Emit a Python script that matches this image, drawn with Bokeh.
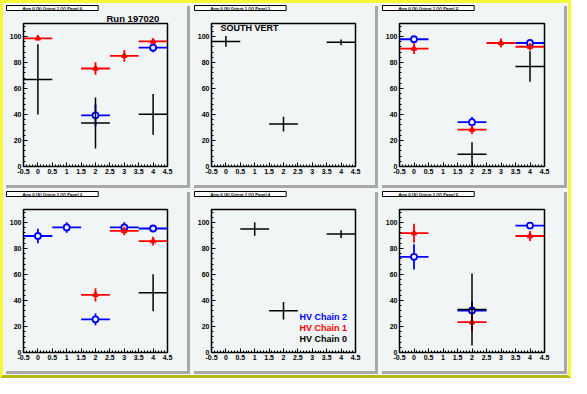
from bokeh.plotting import figure
from bokeh.layouts import gridplot, column
from bokeh.models import (ColumnDataSource, Label, Legend, LegendItem, Title,
                          SingleIntervalTicker, Range1d, CustomJSTickFormatter)
from bokeh.embed import file_html
from bokeh.resources import INLINE

# ---------------- data ----------------
GAPS = [0, 1, 2, 3, 4]          # x positions (gap number)
X_HALF = 0.5                    # horizontal error bar half width
N = None

PANEL_TITLES = ["Arm 0 (S) Orient 1 (V) Panel 0", "Arm 0 (S) Orient 1 (V) Panel 1",
                "Arm 0 (S) Orient 1 (V) Panel 2", "Arm 0 (S) Orient 1 (V) Panel 3",
                "Arm 0 (S) Orient 1 (V) Panel 4", "Arm 0 (S) Orient 1 (V) Panel 5"]
CHAIN_NAMES = ["HV Chain 2", "HV Chain 1", "HV Chain 0"]
CHAIN_COLORS = ["#0000ff", "#ff0000", "#000000"]
RUN_TEXT = "Run 197020"
SIDE_TEXT = "SOUTH VERT"

# Panel 0
P0_CH2_Y = [N, N, 39.4, N, 91.4]
P0_CH2_E = [N, N, 8.5, N, 3.6]
P0_CH1_Y = [98.6, N, 75.4, 85.1, 96.2]
P0_CH1_E = [1.5, N, 4.8, 4.6, 2.2]
P0_CH0_Y = [67.0, N, 33.4, N, 40.1]
P0_CH0_E = [27.0, N, 19.6, N, 15.7]
# Panel 1
P1_CH2_Y = [N, N, N, N, N]
P1_CH2_E = [N, N, N, N, N]
P1_CH1_Y = [N, N, N, N, N]
P1_CH1_E = [N, N, N, N, N]
P1_CH0_Y = [96.2, N, 32.6, N, 95.5]
P1_CH0_E = [4.1, N, 5.6, N, 2.2]
# Panel 2
P2_CH2_Y = [97.9, N, 34.1, N, 95.0]
P2_CH2_E = [1.5, N, 3.9, N, 1.5]
P2_CH1_Y = [90.7, N, 28.3, 95.0, 92.1]
P2_CH1_E = [4.2, N, 3.5, 3.5, 2.9]
P2_CH0_Y = [N, N, 9.4, N, 76.9]
P2_CH0_E = [N, N, 9.2, N, 11.7]
# Panel 3
P3_CH2_Y = [89.6, 96.2, 25.5, 96.2, 95.4]
P3_CH2_E = [5.6, 4.0, 4.5, 3.9, 1.5]
P3_CH1_Y = [N, N, 44.4, 93.5, 85.7]
P3_CH1_E = [N, N, 5.1, 3.3, 3.4]
P3_CH0_Y = [N, N, N, N, 45.9]
P3_CH0_E = [N, N, N, N, 14.2]
# Panel 4
P4_CH2_Y = [N, N, N, N, N]
P4_CH2_E = [N, N, N, N, N]
P4_CH1_Y = [N, N, N, N, N]
P4_CH1_E = [N, N, N, N, N]
P4_CH0_Y = [N, 95.0, 32.1, N, 91.1]
P4_CH0_E = [N, 5.1, 6.7, N, 3.0]
# Panel 5
P5_CH2_Y = [73.6, N, 32.3, N, 97.6]
P5_CH2_E = [9.7, N, 6.7, N, 1.5]
P5_CH1_Y = [91.8, N, 23.3, N, 89.6]
P5_CH1_E = [7.3, N, 6.7, N, 3.9]
P5_CH0_Y = [N, N, 33.0, N, N]
P5_CH0_E = [N, N, 27.7, N, N]

PANELS = [
    [(P0_CH2_Y, P0_CH2_E), (P0_CH1_Y, P0_CH1_E), (P0_CH0_Y, P0_CH0_E)],
    [(P1_CH2_Y, P1_CH2_E), (P1_CH1_Y, P1_CH1_E), (P1_CH0_Y, P1_CH0_E)],
    [(P2_CH2_Y, P2_CH2_E), (P2_CH1_Y, P2_CH1_E), (P2_CH0_Y, P2_CH0_E)],
    [(P3_CH2_Y, P3_CH2_E), (P3_CH1_Y, P3_CH1_E), (P3_CH0_Y, P3_CH0_E)],
    [(P4_CH2_Y, P4_CH2_E), (P4_CH1_Y, P4_CH1_E), (P4_CH0_Y, P4_CH0_E)],
    [(P5_CH2_Y, P5_CH2_E), (P5_CH1_Y, P5_CH1_E), (P5_CH0_Y, P5_CH0_E)],
]

# ---------------- style ----------------
BG = "#f2f5f5"
FONT = "Liberation Sans"
WIDTHS = [184, 184, 185]
HEIGHT = 182
ML, MR, MT, MB = 20, 20, 18, 19


def make_source(ys, es):
    xs, yv, x0, x1, y0, y1 = [], [], [], [], [], []
    for g, y, e in zip(GAPS, ys, es):
        if y is None:
            continue
        xs.append(g); yv.append(y)
        x0.append(g - X_HALF); x1.append(g + X_HALF)
        y0.append(y - e); y1.append(y + e)
    return ColumnDataSource(dict(x=xs, y=yv, x0=x0, x1=x1, y0=y0, y1=y1))


def make_pad(idx, width):
    p = figure(width=width, height=HEIGHT, x_range=Range1d(-0.5, 4.5), y_range=Range1d(0, 110),
               output_backend="svg", toolbar_location=None,
               min_border_left=ML, min_border_right=MR, min_border_top=MT, min_border_bottom=MB,
               background_fill_color=BG, border_fill_color=BG,
               outline_line_color="black", outline_line_width=1.5)
    p.xgrid.visible = False
    p.ygrid.visible = False
    p.xaxis.ticker = SingleIntervalTicker(interval=0.5, num_minor_ticks=5)
    p.xaxis.formatter = CustomJSTickFormatter(code="return String(tick)")
    p.yaxis.ticker = SingleIntervalTicker(interval=20, num_minor_ticks=5)
    for ax in (p.xaxis[0], p.yaxis[0]):
        ax.major_tick_in = 4
        ax.major_tick_out = 0
        ax.minor_tick_in = 2
        ax.minor_tick_out = 0
        ax.major_tick_line_color = "black"
        ax.minor_tick_line_color = "black"
        ax.axis_line_color = "black"
        ax.major_label_text_font = FONT
        ax.major_label_text_font_style = "bold"
        ax.major_label_text_font_size = "7px"
        ax.major_label_text_color = "black"
        ax.major_label_standoff = 2

    renderers = []
    for (ys, es), color in zip(PANELS[idx], CHAIN_COLORS):
        src = make_source(ys, es)
        lw = 1.5 if color == "#000000" else 1.8
        p.segment(x0="x0", y0="y", x1="x1", y1="y", source=src, line_color=color, line_width=lw)
        p.segment(x0="x", y0="y0", x1="x", y1="y1", source=src, line_color=color, line_width=lw)
        if color == "#0000ff":
            r = p.scatter("x", "y", source=src, marker="circle", size=6, line_color=color,
                          line_width=1.8, fill_color=BG)
        elif color == "#ff0000":
            r = p.scatter("x", "y", source=src, marker="triangle", size=5, line_color=color,
                          line_width=1.5, fill_color=color)
        else:
            r = p.scatter("x", "y", source=ColumnDataSource(dict(x=[], y=[])), marker="cross",
                          size=8, line_color=color, line_width=1.5)
        renderers.append(r)

    # text above the frame: nearest to the frame first
    inner = Title(text=RUN_TEXT if idx == 0 else " ", align="left", offset=83,
                  text_font=FONT, text_font_style="bold", text_font_size="9.5px",
                  text_color="black", standoff=0)
    p.add_layout(inner, "above")
    box = Title(text=PANEL_TITLES[idx], align="left", offset=-17,
                text_font=FONT, text_font_style="bold", text_font_size="4.3px",
                text_color="black", background_fill_color="white",
                border_line_color="black", border_line_width=1, padding=(16, 0), standoff=0)
    p.add_layout(box, "above")
    p.styles = {"box-shadow": "3px 3px 0px 0px #a8a8a8"}
    return p, renderers


pads = []
for i in range(6):
    p, rs = make_pad(i, WIDTHS[i % 3])
    pads.append((p, rs))

fh = HEIGHT - MT - MB

# SOUTH VERT (pad 1)
pads[1][0].add_layout(Label(x=9, y=fh - 11, x_units="screen", y_units="screen", text=SIDE_TEXT,
                            text_font=FONT, text_font_style="bold", text_font_size="9px",
                            text_color="black"))
# legend (pad 4)
p4, rs4 = pads[4]
for k, (name, color, r) in enumerate(zip(CHAIN_NAMES, CHAIN_COLORS, rs4)):
    yc = [35.5, 24.0, 12.8][k]
    leg = Legend(items=[LegendItem(label=name, renderers=[r])], location=(73.4, yc - 5.5),
                 background_fill_alpha=0, border_line_alpha=0, padding=0, margin=0, spacing=0,
                 glyph_width=10, glyph_height=11, label_height=11, label_standoff=5,
                 label_text_font=FONT, label_text_font_style="bold", label_text_font_size="9px",
                 label_text_color=color)
    p4.add_layout(leg)

grid = gridplot([[pads[0][0], pads[1][0], pads[2][0]], [pads[3][0], pads[4][0], pads[5][0]]],
                toolbar_location=None)
grid.spacing = 4
root = column(grid, styles={"background-color": BG,
                            "border-style": "solid", "border-width": "3px",
                            "border-color": "#f7f73a #f7f73a #b8b814 #f7f73a",
                            "padding": "0px 4px 4px 0px"})

open("out.html", "w").write(file_html(root, INLINE))
